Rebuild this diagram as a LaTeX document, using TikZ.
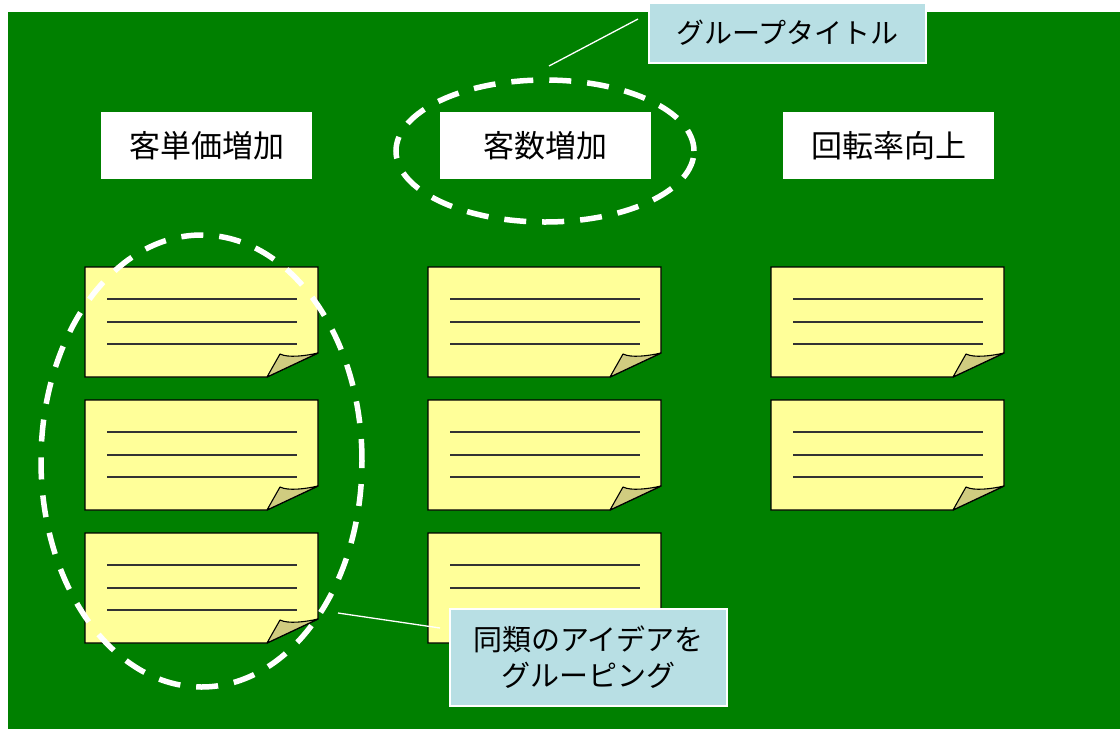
\documentclass[tikz,border=0pt]{standalone}
\usepackage{fontspec}
\setmainfont{Noto Sans CJK JP}
\usetikzlibrary{shapes.geometric}
\definecolor{bggreen}{HTML}{008000}
\definecolor{notey}{HTML}{FFFF99}
\definecolor{flapc}{HTML}{D0CC80}
\definecolor{callc}{HTML}{B8DFE4}
\definecolor{lineg}{HTML}{333333}
\tikzset{
  header/.style={fill=white, draw=none, minimum width=211pt, minimum height=67pt, inner sep=0pt,
    font=\fontsize{31}{36}\selectfont},
  notebody/.style={fill=notey, draw=black, line width=1.3pt, line join=miter},
  flapstyle/.style={fill=flapc, draw=black, line width=1.1pt, line join=round},
  noteline/.style={draw=lineg, line width=1.6pt},
  noteanchor/.style={rectangle, draw=none, minimum width=233pt, minimum height=110pt, inner sep=0pt, anchor=north west},
  groupring/.style={ellipse, draw=white, line width=5.5pt, dash pattern=on 22pt off 16pt, inner sep=0pt},
  callbox/.style={fill=callc, draw=white, line width=1.6pt, inner sep=0pt, align=center},
  callline/.style={draw=white, line width=1.3pt},
}
\newcommand\stickynote[3]{%
  \begin{scope}[shift={(#2,#3)}]
    \path[notebody] (0,0) -- (233,0) -- (233,86) -- (182,110) -- (0,110) -- cycle;
    \path[flapstyle] (182,110) -- (195,87) .. controls (203,91) and (220,89) .. (233,86) -- cycle;
    \path[noteline] (22,32) -- (212,32);
    \path[noteline] (22,55) -- (212,55);
    \path[noteline] (22,77) -- (212,77);
  \end{scope}
  \node[noteanchor] (#1) at (#2,#3) {};
}
\begin{document}
\begin{tikzpicture}[x=1pt, y=-1pt]
\useasboundingbox (0,0) rectangle (1120,729);
\fill[white] (0,0) rectangle (1120,729);
\fill[bggreen] (8,12) rectangle (1120,729);

% headers
\node[header] (h1) at (206.5,145.5) {客単価増加};
\node[header] (h2) at (545.5,145.5) {客数増加};
\node[header] (h3) at (888.5,145.5) {回転率向上};

% sticky notes
\stickynote{n11}{85}{267}
\stickynote{n12}{85}{400}
\stickynote{n13}{85}{533}
\stickynote{n21}{428}{267}
\stickynote{n22}{428}{400}
\stickynote{n23}{428}{533}
\stickynote{n31}{771}{267}
\stickynote{n32}{771}{400}

% group rings
\node[groupring, minimum width=298pt, minimum height=142pt] (g2) at (545,151) {};
\node[groupring, minimum width=321pt, minimum height=452pt] (g1) at (201.5,461) {};

% callouts
\coordinate (ta) at (638,19);
\coordinate (tb) at (549,66);
\draw[callline] (ta) -- (tb);
\node[callbox, minimum width=277pt, minimum height=60pt, font=\fontsize{28}{32}\selectfont] (c1) at (787.5,33) {グループタイトル};

\coordinate (ba) at (440,628);
\coordinate (bb) at (338,613);
\draw[callline] (ba) -- (bb);
\node[callbox, minimum width=277pt, minimum height=97pt, font=\fontsize{29}{36}\selectfont] (c2) at (588.5,657.5) {同類のアイデアを\\グルーピング};
\end{tikzpicture}
\end{document}
